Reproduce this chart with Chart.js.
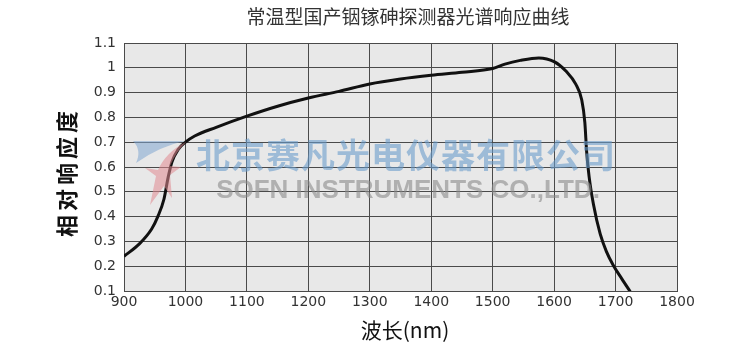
<!DOCTYPE html>
<html>
<head>
<meta charset="utf-8">
<script src="https://cdn.jsdelivr.net/npm/chart.js@4/dist/chart.umd.min.js"></script>
<style>
  html, body { margin: 0; padding: 0; background: #fff; }
  #wrap { width: 750px; height: 355px; position: relative; }
</style>
</head>
<body>
<div id="wrap"><canvas id="chart"></canvas></div>
<script>
// 波长 (nm) 与相对响应度
const wavelengths = [900, 925, 945, 955, 965, 972, 978, 988, 1000, 1015, 1050, 1100, 1150, 1200, 1250, 1300, 1350, 1400, 1450, 1500, 1520, 1545, 1575, 1600, 1620, 1635, 1645, 1650, 1653, 1657, 1664, 1675, 1685, 1696, 1710, 1724];
const responses = [0.24, 0.29, 0.35, 0.40, 0.47, 0.56, 0.62, 0.67, 0.70, 0.725, 0.76, 0.805, 0.845, 0.878, 0.905, 0.935, 0.955, 0.97, 0.982, 0.997, 1.015, 1.03, 1.04, 1.025, 0.985, 0.935, 0.87, 0.78, 0.66, 0.56, 0.45, 0.33, 0.26, 0.205, 0.15, 0.097];

const chartTitle = '常温型国产铟镓砷探测器光谱响应曲线';
const xTitle = '波长(nm)';
const yTitle = '相对响应度';
const watermarkCn = '北京赛凡光电仪器有限公司';
const watermarkEn = 'SOFN INSTRUMENTS CO.,LTD.';

const TICK_FONT = '"DejaVu Sans", sans-serif';
const CJK_FONT = '"Noto Sans CJK SC", sans-serif';

// 绘图区背景
const plotBg = {
    id: 'plotBg',
    beforeDraw(chart) {
        const { ctx, chartArea: a } = chart;
        ctx.save();
        ctx.fillStyle = '#e8e8e8';
        ctx.fillRect(a.left, a.top, a.right - a.left, a.bottom - a.top);
        ctx.restore();
    }
};

// 标题、坐标轴标题、水印
const textLayer = {
    id: 'textLayer',
    afterDraw(chart) {
        const { ctx } = chart;
        ctx.save();
        ctx.textAlign = 'center';
        ctx.textBaseline = 'middle';

        ctx.fillStyle = '#333';
        ctx.font = '19px ' + CJK_FONT;
        ctx.fillText(chartTitle, 408, 17);

        ctx.fillStyle = '#111';
        ctx.font = '21px ' + CJK_FONT;
        ctx.fillText(xTitle, 405, 330);

        ctx.save();
        ctx.translate(67, 174);
        ctx.rotate(-Math.PI / 2);
        ctx.letterSpacing = '4px';
        ctx.font = 'bold 22px ' + CJK_FONT;
        ctx.fillText(yTitle, 2, 0);
        ctx.restore();

        // 水印 logo
        ctx.globalAlpha = 0.55;
        ctx.fillStyle = '#7fa6d0';
        ctx.beginPath();
        ctx.moveTo(133, 141);
        ctx.lineTo(185, 141);
        ctx.quadraticCurveTo(160, 146, 136, 163);
        ctx.quadraticCurveTo(142, 150, 133, 141);
        ctx.fill();
        ctx.fillStyle = '#e08890';
        ctx.beginPath();
        ctx.moveTo(186, 142);
        ctx.quadraticCurveTo(166, 152, 158, 170);
        ctx.lineTo(145, 168);
        ctx.lineTo(156, 176);
        ctx.lineTo(150, 205);
        ctx.lineTo(164, 186);
        ctx.lineTo(172, 198);
        ctx.lineTo(170, 175);
        ctx.lineTo(181, 167);
        ctx.lineTo(170, 166);
        ctx.quadraticCurveTo(176, 152, 186, 142);
        ctx.fill();

        ctx.globalAlpha = 0.6;
        ctx.fillStyle = '#6b9ccc';
        ctx.font = 'bold 34px ' + CJK_FONT;
        ctx.letterSpacing = '1px';
        ctx.fillText(watermarkCn, 406, 155);
        ctx.fillStyle = '#8a8a8a';
        ctx.font = 'bold 26px "Liberation Sans", sans-serif';
        ctx.letterSpacing = '0px';
        ctx.fillText(watermarkEn, 408, 191);
        ctx.restore();
    }
};

new Chart(document.getElementById('chart'), {
    type: 'scatter',
    data: {
        datasets: [{
            data: wavelengths.map((w, i) => ({ x: w, y: responses[i] })),
            showLine: true,
            borderColor: '#111',
            borderWidth: 3,
            pointRadius: 0,
            tension: 0.4,
            cubicInterpolationMode: 'monotone'
        }]
    },
    options: {
        responsive: true,
        maintainAspectRatio: false,
        animation: false,
        layout: { padding: { top: 43, right: 73, bottom: 0, left: 0 } },
        plugins: { legend: { display: false }, tooltip: { enabled: false } },
        scales: {
            x: {
                type: 'linear', min: 900, max: 1800,
                ticks: {
                    stepSize: 100, color: '#333', font: { family: TICK_FONT, size: 14 }, padding: 3,
                    callback: v => String(v)
                },
                grid: { color: '#4a4a4a', lineWidth: 1, drawTicks: false },
                border: { color: '#4a4a4a', width: 1 },
                afterFit(scale) { scale.height = 64; }
            },
            y: {
                min: 0.1, max: 1.1,
                ticks: {
                    stepSize: 0.1, color: '#333', font: { family: TICK_FONT, size: 14 }, padding: 8,
                    callback: v => String(Math.round(v * 10) / 10)
                },
                grid: { color: '#4a4a4a', lineWidth: 1, drawTicks: false },
                border: { color: '#4a4a4a', width: 1 },
                afterFit(scale) { scale.width = 124; }
            }
        }
    },
    plugins: [plotBg, textLayer]
});
</script>
</body>
</html>
